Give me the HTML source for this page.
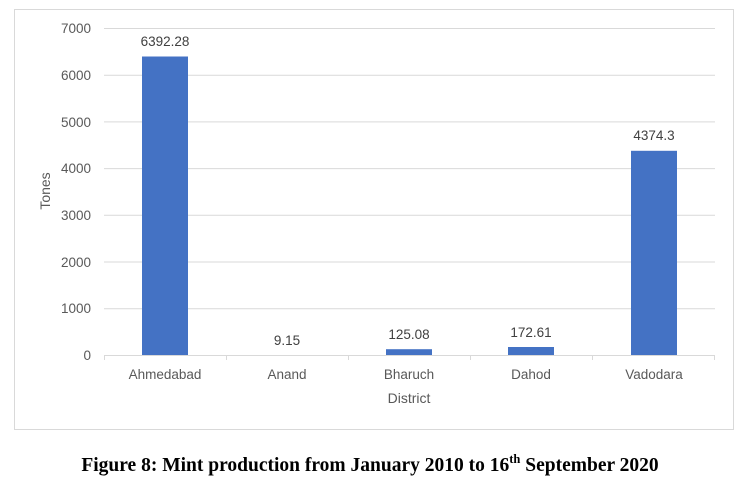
<!DOCTYPE html>
<html><head><style>
body{margin:0;background:#fff;}
</style></head><body>
<svg width="742" height="483" xmlns="http://www.w3.org/2000/svg" font-family="Liberation Sans, sans-serif">
<rect x="14.5" y="9.5" width="719" height="420" fill="#fff" stroke="#d9d9d9"/>
<g stroke="#d9d9d9" stroke-width="1">
<line x1="104" x2="715" y1="28.5" y2="28.5"/>
<line x1="104" x2="715" y1="75.2" y2="75.2"/>
<line x1="104" x2="715" y1="121.9" y2="121.9"/>
<line x1="104" x2="715" y1="168.6" y2="168.6"/>
<line x1="104" x2="715" y1="215.3" y2="215.3"/>
<line x1="104" x2="715" y1="262" y2="262"/>
<line x1="104" x2="715" y1="308.7" y2="308.7"/>
<line x1="104" x2="715" y1="355.5" y2="355.5"/>
<line x1="104.5" x2="104.5" y1="355" y2="360"/>
<line x1="226.5" x2="226.5" y1="355" y2="360"/>
<line x1="348.5" x2="348.5" y1="355" y2="360"/>
<line x1="470.5" x2="470.5" y1="355" y2="360"/>
<line x1="592.5" x2="592.5" y1="355" y2="360"/>
<line x1="714.5" x2="714.5" y1="355" y2="360"/>
</g>
<g font-size="13.5" fill="#595959" text-anchor="end">
<text x="91" y="33">7000</text><text x="91" y="80">6000</text><text x="91" y="127">5000</text>
<text x="91" y="173">4000</text><text x="91" y="220">3000</text><text x="91" y="267">2000</text>
<text x="91" y="313">1000</text><text x="91" y="360">0</text>
</g>
<g fill="#4472c4">
<rect x="142" y="56.5" width="46" height="298.5"/>
<rect x="386" y="349.2" width="46" height="5.8"/>
<rect x="508" y="347" width="46" height="8"/>
<rect x="631" y="150.8" width="46" height="204.2"/>
</g>
<g font-size="13.5" fill="#404040" text-anchor="middle">
<text x="165" y="46">6392.28</text>
<text x="287" y="345">9.15</text>
<text x="409" y="339">125.08</text>
<text x="531" y="337">172.61</text>
<text x="654" y="140">4374.3</text>
</g>
<g font-size="13.5" fill="#595959" text-anchor="middle">
<text x="165" y="379">Ahmedabad</text>
<text x="287" y="379">Anand</text>
<text x="409" y="379">Bharuch</text>
<text x="531" y="379">Dahod</text>
<text x="654" y="379">Vadodara</text>
<text x="409" y="403" font-size="14">District</text>
<text transform="translate(50,191) rotate(-90)" font-size="14">Tones</text>
</g>
<text x="370" y="471" text-anchor="middle" font-family="Liberation Serif, serif" font-weight="bold" font-size="19.5" fill="#000">Figure 8: Mint production from January 2010 to 16<tspan font-size="12.5" dy="-8">th</tspan><tspan dy="8"> September 2020</tspan></text>
</svg>
</body></html>
